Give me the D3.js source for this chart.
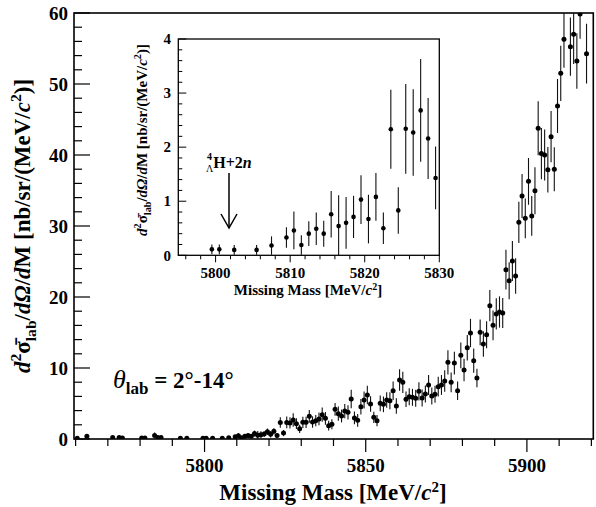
<!DOCTYPE html>
<html><head><meta charset="utf-8">
<script src="https://cdn.jsdelivr.net/npm/d3@7"></script>
<style>body{margin:0;background:#fff}svg{display:block}text{font-family:"Liberation Serif","Times New Roman",serif;font-weight:bold}</style>
</head><body>
<svg id="c" width="596" height="507"></svg>
<script>
// ---- main spectrum ----
const mass = [5760.5,5763.5,5771.5,5773.5,5774.5,5780.5,5781.5,5784.5,5785.5,5786.5,5792.5,5794.5,
5799.5,5800.5,5802.5,5805.5,5807.5,5809.5,5810.5,5811.5,5812.5,5813.5,5814.5,5815.5,5816.5,5817.5,5818.5,5819.5,
5820.5,5821.5,5822.5,5823.5,5824.5,5825.5,5826.5,5827.5,5828.5,5829.5,
5830.5,5831.5,5832.5,5833.5,5834.5,5835.5,5836.5,5837.5,5838.5,5839.5,
5840.5,5841.5,5842.5,5843.5,5844.5,5845.5,5846.5,5847.5,5848.5,5849.5,
5850.5,5851.5,5852.5,5853.5,5854.5,5855.5,5856.5,5857.5,5858.5,5859.5,
5860.5,5861.5,5862.5,5863.5,5864.5,5865.5,5866.5,5867.5,5868.5,5869.5,
5870.5,5871.5,5872.5,5873.5,5874.5,5875.5,5876.5,5877.5,5878.5,5879.5,
5880.5,5881.5,5882.5,5883.5,5884.5,5885.5,5886.5,5887.5,5888.5,5889.5,
5890.5,5891.5,5892.5,5893.5,5894.5,5895.5,5896.5,5897.5,5898.5,5899.5,
5900.5,5901.5,5902.5,5903.5,5904.5,5905.5,5906.5,5907.5,5908.5,5909.5,
5910.5,5911.5,5913.5,5914.5,5915.5,5916.5,5918.5];
const xsec = [0.1,0.4,0.2,0.2,0.15,0.15,0.15,0.5,0.2,0.2,0.1,0.1,
0.11,0.11,0.10,0.10,0.18,0.33,0.46,0.19,0.40,0.49,0.40,0.76,0.54,0.60,0.71,1.03,
0.67,1.08,0.50,2.33,0.83,2.34,2.27,2.68,2.16,1.43,
2.35,2.35,3.19,2.39,2.58,2.82,3.43,2.91,1.88,2.07,
4.18,3.57,3.24,3.94,3.76,5.63,2.96,2.63,4.55,5.49,
6.20,4.93,3.05,2.58,5.02,4.88,5.49,5.40,6.81,4.65,
8.31,7.98,5.59,5.96,5.87,5.73,6.71,5.77,6.34,7.61,
6.06,6.29,7.37,7.61,8.17,10.80,7.98,10.70,6.81,11.78,
9.72,12.86,14.93,11.03,8.59,15.02,13.38,14.69,18.78,16.01,
17.61,17.89,17.75,23.85,22.30,25.07,22.96,30.52,34.23,31.08,
36.29,31.41,34.97,43.76,40.2,40.0,37.93,42.58,37.98,46.9,
51.5,56.3,55.25,57.0,53.24,59.86,54.27];
const xsecErr = [0.1,0.3,0.2,0.2,0.15,0.15,0.15,0.4,0.2,0.2,0.1,0.1,
0.09,0.09,0.09,0.09,0.17,0.19,0.35,0.18,0.23,0.30,0.24,0.43,0.57,0.48,0.39,0.45,
0.45,0.44,0.29,0.73,0.43,0.83,0.80,0.95,0.75,0.58,
0.8,0.8,0.9,0.8,0.8,0.9,1.0,0.9,0.7,0.7,
0.9,1.0,0.9,1.0,1.0,1.3,0.9,0.9,1.1,1.2,
1.3,1.1,0.8,0.8,1.1,1.1,1.1,1.2,1.3,1.1,
1.5,1.5,1.1,1.2,1.2,1.2,1.3,1.2,1.2,1.4,
1.2,1.2,1.4,1.4,1.5,1.7,1.4,1.6,1.3,1.8,
1.6,1.8,2.0,1.7,1.3,1.8,1.8,1.9,2.2,2.1,
2.2,2.2,2.1,2.8,2.6,2.8,2.5,2.9,3.1,2.8,
3.3,2.8,3.3,3.8,3.6,3.6,3.2,3.6,3.1,3.8,
3.9,4.0,4.1,4.2,3.9,3.5,4.2];
const xTicksMain = [5800,5850,5900];
const yTicksMain = [0,10,20,30,40,50,60];

// ---- inset ----
const insetMass = [5799.5,5800.5,5802.5,5805.5,5807.5,5809.5,5810.5,5811.5,5812.5,5813.5,5814.5,5815.5,5816.5,5817.5,
5818.5,5819.5,5820.5,5821.5,5822.5,5823.5,5824.5,5825.5,5826.5,5827.5,5828.5,5829.5];
const insetXsec = [0.11,0.11,0.10,0.10,0.18,0.33,0.46,0.19,0.40,0.49,0.40,0.76,0.54,0.60,
0.71,1.03,0.67,1.08,0.50,2.33,0.83,2.34,2.27,2.68,2.16,1.43];
const insetErr = [0.09,0.09,0.09,0.09,0.17,0.19,0.35,0.18,0.23,0.30,0.24,0.43,0.57,0.48,
0.39,0.45,0.45,0.44,0.29,0.73,0.43,0.83,0.80,0.95,0.75,0.58];
const xTicksInset = [5800,5810,5820,5830];
const yTicksInset = [0,1,2,3,4];
const arrowMass = 5801.8;

const svg = d3.select("#c");
const x = d3.scaleLinear().domain([5759.5,5920.6]).range([74,593.3]);
const y = d3.scaleLinear().domain([0,60]).range([439,13]);

svg.append("defs").append("clipPath").attr("id","clipMain")
  .append("rect").attr("x",74).attr("y",13).attr("width",519.3).attr("height",426);

// main axes ticks
const gm = svg.append("g");
// y ticks inward
d3.range(0,60.001,2).forEach(v=>{
  const major = Math.abs(v%10)<1e-6;
  gm.append("line").attr("x1",74).attr("x2",74+(major?16:8)).attr("y1",y(v)).attr("y2",y(v))
    .attr("stroke","#000").attr("stroke-width",1.2);
});
yTicksMain.forEach(v=>{
  gm.append("text").attr("x",68).attr("y",y(v)).attr("dy","0.35em").attr("text-anchor","end")
    .attr("font-size",19).text(v);
});
// x ticks outward
d3.range(5760,5921,10).forEach(v=>{
  const major = v%50===0;
  gm.append("line").attr("x1",x(v)).attr("x2",x(v)).attr("y1",439).attr("y2",439+(major?13:7))
    .attr("stroke","#000").attr("stroke-width",1.2);
});
xTicksMain.forEach(v=>{
  gm.append("text").attr("x",x(v)).attr("y",472).attr("text-anchor","middle")
    .attr("font-size",19).text(v);
});
// frame
svg.append("rect").attr("x",74).attr("y",13).attr("width",519.3).attr("height",426)
  .attr("fill","none").attr("stroke","#000").attr("stroke-width",1.6);

// titles
const xt = svg.append("text").attr("x",333).attr("y",500).attr("text-anchor","middle").attr("font-size",23);
xt.append("tspan").text("Missing Mass [MeV/");
xt.append("tspan").attr("font-style","italic").text("c");
xt.append("tspan").attr("baseline-shift","8").attr("font-size",15).text("2");
xt.append("tspan").text("]");

function yTitle(g, fs){
  g.append("tspan").attr("font-style","italic").text("d");
  g.append("tspan").attr("baseline-shift",fs*0.4).attr("font-size",fs*0.68).text("2");
  g.append("tspan").text("\u03c3\u0304");
  g.append("tspan").attr("baseline-shift",-fs*0.25).attr("font-size",fs*0.68).text("lab");
  g.append("tspan").text("/");
  g.append("tspan").attr("font-style","italic").text("d\u03a9");
  g.append("tspan").text("/");
  g.append("tspan").attr("font-style","italic").text("d");
  g.append("tspan").text("M [nb/sr/(MeV/");
  g.append("tspan").attr("font-style","italic").text("c");
  g.append("tspan").attr("baseline-shift",fs*0.4).attr("font-size",fs*0.68).text("2");
  g.append("tspan").text(")]");
}
const yt = svg.append("text").attr("transform","translate(30,226) rotate(-90)")
  .attr("text-anchor","middle").attr("font-size",23);
yTitle(yt,23);

// theta label
const th = svg.append("text").attr("x",113).attr("y",388).attr("font-size",23);
th.append("tspan").attr("font-style","italic").attr("font-weight","normal").attr("font-size",26).text("\u03b8");
th.append("tspan").attr("baseline-shift",-6).attr("font-size",17).text("lab");
th.append("tspan").text(" = 2\u00b0-14\u00b0");

// main data
const dm = svg.append("g").attr("clip-path","url(#clipMain)");
mass.forEach((m,i)=>{
  dm.append("line").attr("x1",x(m)).attr("x2",x(m))
    .attr("y1",y(xsec[i]-xsecErr[i])).attr("y2",y(xsec[i]+xsecErr[i]))
    .attr("stroke","#111").attr("stroke-width",1.1);
});
mass.forEach((m,i)=>{
  dm.append("circle").attr("cx",x(m)).attr("cy",y(xsec[i])).attr("r",2.5).attr("fill","#000");
});

// ---- inset ----
const xi = d3.scaleLinear().domain([5795,5830]).range([178.3,439.3]);
const yi = d3.scaleLinear().domain([0,4]).range([255.3,39]);
const gi = svg.append("g");
gi.append("rect").attr("x",178.3).attr("y",39).attr("width",261).attr("height",216.3)
  .attr("fill","#fff").attr("stroke","none");
d3.range(0,4.0001,0.2).forEach(v=>{
  const major = Math.abs(v-Math.round(v))<1e-6;
  gi.append("line").attr("x1",178.3).attr("x2",178.3+(major?8:4)).attr("y1",yi(v)).attr("y2",yi(v))
    .attr("stroke","#000").attr("stroke-width",1);
});
yTicksInset.forEach(v=>{
  gi.append("text").attr("x",171).attr("y",yi(v)).attr("dy","0.35em").attr("text-anchor","end")
    .attr("font-size",15).text(v);
});
d3.range(5796,5830.01,2).forEach(v=>{
  const major = v%10===0;
  gi.append("line").attr("x1",xi(v)).attr("x2",xi(v)).attr("y1",255.3).attr("y2",255.3+(major?7:4))
    .attr("stroke","#000").attr("stroke-width",1);
});
xTicksInset.forEach(v=>{
  gi.append("text").attr("x",xi(v)).attr("y",278).attr("text-anchor","middle")
    .attr("font-size",15).text(v);
});
const ixt = gi.append("text").attr("x",308).attr("y",295).attr("text-anchor","middle").attr("font-size",15);
ixt.append("tspan").text("Missing Mass [MeV/");
ixt.append("tspan").attr("font-style","italic").text("c");
ixt.append("tspan").attr("baseline-shift","5").attr("font-size",10).text("2");
ixt.append("tspan").text("]");
const iyt = gi.append("text").attr("transform","translate(147,140) rotate(-90)")
  .attr("text-anchor","middle").attr("font-size",15);
yTitle(iyt,15);

insetMass.forEach((m,i)=>{
  gi.append("line").attr("x1",xi(m)).attr("x2",xi(m))
    .attr("y1",yi(Math.max(0,insetXsec[i]-insetErr[i]))).attr("y2",yi(insetXsec[i]+insetErr[i]))
    .attr("stroke","#111").attr("stroke-width",1.1);
  gi.append("circle").attr("cx",xi(m)).attr("cy",yi(insetXsec[i])).attr("r",2.3).attr("fill","#000");
});
gi.append("rect").attr("x",178.3).attr("y",39).attr("width",261).attr("height",216.3)
  .attr("fill","none").attr("stroke","#000").attr("stroke-width",1.3);

// annotation
const ax = xi(arrowMass);
const an = gi.append("text").attr("x",206).attr("y",168).attr("font-size",16);
an.append("tspan").attr("baseline-shift",8).attr("font-size",10).text("4");
an.append("tspan").attr("dx",-6).attr("baseline-shift",-4).attr("font-size",10).attr("font-weight","normal").text("\u039b");
an.append("tspan").text("H+2");
an.append("tspan").attr("font-style","italic").text("n");
gi.append("line").attr("x1",ax).attr("x2",ax).attr("y1",173).attr("y2",228).attr("stroke","#000").attr("stroke-width",1.5);
gi.append("path").attr("d",`M${ax-8},214L${ax},228L${ax+8},214`).attr("fill","none").attr("stroke","#000").attr("stroke-width",1.5);
</script>
</body></html>
